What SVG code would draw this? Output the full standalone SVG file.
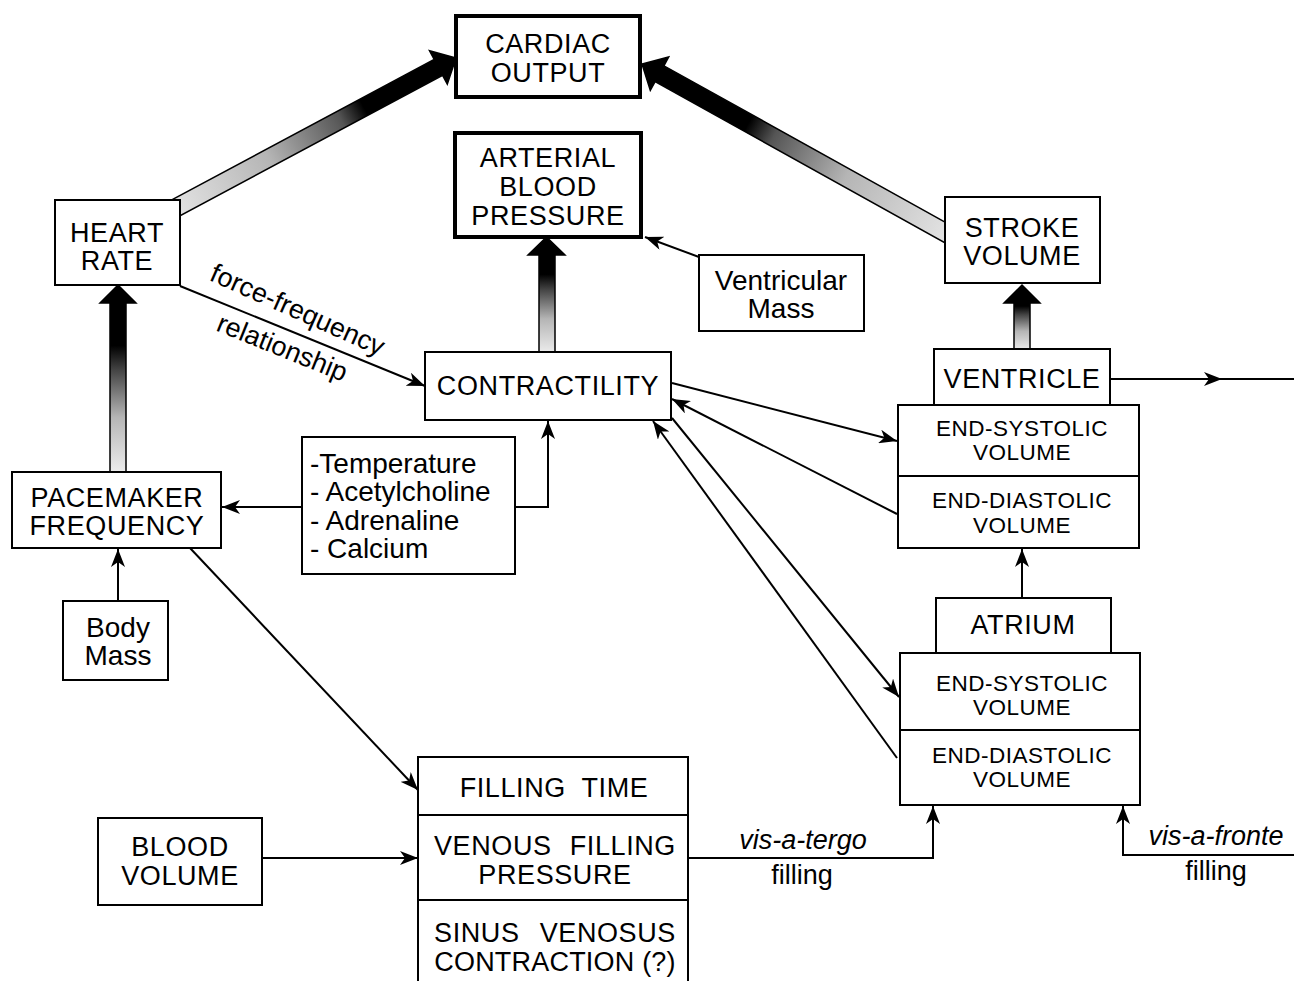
<svg xmlns="http://www.w3.org/2000/svg" width="1294" height="981" viewBox="0 0 1294 981">
<style>
text{font-family:"Liberation Sans",Arial,sans-serif;fill:#000}
.b{font-size:27px;letter-spacing:0.6px;text-anchor:middle}
.m{font-size:28px;text-anchor:middle}
.s{font-size:22.5px;letter-spacing:0.5px;text-anchor:middle}
.l{font-size:28px}
.i{font-size:27px;font-style:italic;text-anchor:middle}
.r{font-size:27px;text-anchor:middle}
.box{fill:#fff;stroke:#000;stroke-width:2}
.thick{fill:#fff;stroke:#000;stroke-width:4}
.ln{fill:none;stroke:#000;stroke-width:2}
.ar{marker-end:url(#ah)}
.big{stroke:#000;stroke-width:1.5;stroke-linejoin:miter}
</style>
<defs>
<marker id="ah" markerUnits="userSpaceOnUse" markerWidth="19" markerHeight="14" refX="18" refY="7" orient="auto">
<path d="M0,0 L18,7 L0,14 L5,7 Z" fill="#000"/>
</marker>
<linearGradient id="gv" x1="0" y1="1" x2="0" y2="0">
<stop offset="0" stop-color="#eee"/>
<stop offset="0.3" stop-color="#b5b5b5"/>
<stop offset="0.55" stop-color="#444"/>
<stop offset="0.68" stop-color="#000"/>
<stop offset="1" stop-color="#000"/>
</linearGradient>
<linearGradient id="gHR" gradientUnits="userSpaceOnUse" x1="168" y1="212" x2="456" y2="58">
<stop offset="0" stop-color="#e6e6e6"/>
<stop offset="0.35" stop-color="#b5b5b5"/>
<stop offset="0.6" stop-color="#555"/>
<stop offset="0.68" stop-color="#000"/>
<stop offset="1" stop-color="#000"/>
</linearGradient>
<linearGradient id="gSV" gradientUnits="userSpaceOnUse" x1="955" y1="238" x2="642" y2="64">
<stop offset="0" stop-color="#e6e6e6"/>
<stop offset="0.35" stop-color="#b5b5b5"/>
<stop offset="0.58" stop-color="#555"/>
<stop offset="0.66" stop-color="#000"/>
<stop offset="1" stop-color="#000"/>
</linearGradient>
</defs>

<g id="connectors">
<polygon class="big" fill="url(#gHR)" points="163.8,204.1 434.2,59.5 429.5,50.7 456,58 447.3,84.2 442.6,75.3 172.2,219.9"/>
<polygon class="big" fill="url(#gSV)" points="959.4,230.1 663.9,65.8 668.7,57.0 642,64 650.3,90.4 655.1,81.6 950.6,245.9"/>
<polygon class="big" fill="url(#gv)" points="110,474 110,303 100,303 118,285 136,303 126,303 126,474"/>
<polygon class="big" fill="url(#gv)" points="539,354 539,255 528,255 546.5,237 565,255 555,255 555,354"/>
<polygon class="big" fill="url(#gv)" points="1014,351 1014,303 1004,303 1022,285 1040,303 1030,303 1030,351"/>

<path class="ln ar" d="M699,257 L645,237"/>
<path class="ln ar" d="M180,286 L425,386"/>
<path class="ln ar" d="M302,507 L222,507"/>
<path class="ln ar" d="M515,507 L548,507 L548,421"/>
<path class="ln ar" d="M118,601 L118,549"/>
<path class="ln ar" d="M190,548 L418,790"/>
<path class="ln ar" d="M262,858 L418,858"/>
<path class="ln ar" d="M688,858 L933,858 L933,806"/>
<path class="ln ar" d="M1294,855 L1123,855 L1123,806"/>
<path class="ln ar" d="M1110,379 L1222,379"/>
<path class="ln" d="M1218,379 L1294,379"/>
<path class="ln ar" d="M672,383 L897,441"/>
<path class="ln ar" d="M897,514 L672,399"/>
<path class="ln ar" d="M672,418 L899,697"/>
<path class="ln ar" d="M897,758 L653,421"/>
<path class="ln ar" d="M1022,598 L1022,549"/>
</g>

<g id="cardiac-output">
<rect class="thick" x="456" y="16" width="184" height="81"/>
<text class="b" x="548" y="53">CARDIAC</text>
<text class="b" x="548" y="82">OUTPUT</text>
</g>
<g id="arterial-blood-pressure">
<rect class="thick" x="455" y="133" width="186" height="104"/>
<text class="b" x="548" y="167">ARTERIAL</text>
<text class="b" x="548" y="196">BLOOD</text>
<text class="b" x="548" y="225">PRESSURE</text>
</g>
<g id="heart-rate">
<rect class="box" x="55" y="200" width="125" height="85"/>
<text class="b" x="117" y="242">HEART</text>
<text class="b" x="117" y="270">RATE</text>
</g>
<g id="stroke-volume">
<rect class="box" x="945" y="197" width="155" height="86"/>
<text class="b" x="1022" y="237">STROKE</text>
<text class="b" x="1022" y="265">VOLUME</text>
</g>
<g id="ventricular-mass">
<rect class="box" x="699" y="255" width="165" height="76"/>
<text class="m" x="781" y="290">Ventricular</text>
<text class="m" x="781" y="318">Mass</text>
</g>
<g id="contractility">
<rect class="box" x="425" y="352" width="246" height="68"/>
<text class="b" x="548" y="395">CONTRACTILITY</text>
</g>
<g id="force-frequency-label">
<text class="r" transform="rotate(24 294 318)" x="294" y="318">force-frequency</text>
<text class="r" transform="rotate(22 279 356)" x="279" y="356">relationship</text>
</g>
<g id="ventricle">
<rect class="box" x="934" y="349" width="176" height="56"/>
<text class="b" x="1022" y="388">VENTRICLE</text>
<rect class="box" x="898" y="405" width="241" height="71"/>
<text class="s" x="1022" y="436">END-SYSTOLIC</text>
<text class="s" x="1022" y="460">VOLUME</text>
<rect class="box" x="898" y="476" width="241" height="72"/>
<text class="s" x="1022" y="508">END-DIASTOLIC</text>
<text class="s" x="1022" y="533">VOLUME</text>
</g>
<g id="atrium">
<rect class="box" x="936" y="598" width="175" height="55"/>
<text class="b" x="1023" y="634">ATRIUM</text>
<rect class="box" x="900" y="653" width="240" height="77"/>
<text class="s" x="1022" y="691">END-SYSTOLIC</text>
<text class="s" x="1022" y="715">VOLUME</text>
<rect class="box" x="900" y="730" width="240" height="75"/>
<text class="s" x="1022" y="763">END-DIASTOLIC</text>
<text class="s" x="1022" y="787">VOLUME</text>
</g>
<g id="pacemaker-frequency">
<rect class="box" x="12" y="472" width="209" height="76"/>
<text class="b" x="117" y="507">PACEMAKER</text>
<text class="b" x="117" y="535">FREQUENCY</text>
</g>
<g id="modulators">
<rect class="box" x="302" y="437" width="213" height="137"/>
<text class="l" x="310" y="473">-Temperature</text>
<text class="l" x="310" y="501">- Acetylcholine</text>
<text class="l" x="310" y="530">- Adrenaline</text>
<text class="l" x="310" y="558">- Calcium</text>
</g>
<g id="body-mass">
<rect class="box" x="63" y="601" width="105" height="79"/>
<text class="m" x="118" y="637">Body</text>
<text class="m" x="118" y="665">Mass</text>
</g>
<g id="filling">
<rect class="box" x="418" y="757" width="270" height="58"/>
<text class="b" x="554" y="797" style="word-spacing:8px">FILLING TIME</text>
<rect class="box" x="418" y="815" width="270" height="85"/>
<text class="b" x="555" y="855" style="word-spacing:10px">VENOUS FILLING</text>
<text class="b" x="555" y="884">PRESSURE</text>
<path class="box" d="M418,981 L418,900 L688,900 L688,981"/>
<text class="b" x="555" y="942" style="word-spacing:12px">SINUS VENOSUS</text>
<text class="b" x="555" y="971" style="letter-spacing:0.2px">CONTRACTION (?)</text>
</g>
<g id="blood-volume">
<rect class="box" x="98" y="818" width="164" height="87"/>
<text class="b" x="180" y="856">BLOOD</text>
<text class="b" x="180" y="885">VOLUME</text>
</g>
<g id="labels">
<text class="i" x="803" y="849">vis-a-tergo</text>
<text class="r" x="802" y="884">filling</text>
<text class="i" x="1216" y="845">vis-a-fronte</text>
<text class="r" x="1216" y="880">filling</text>
</g>
</svg>
